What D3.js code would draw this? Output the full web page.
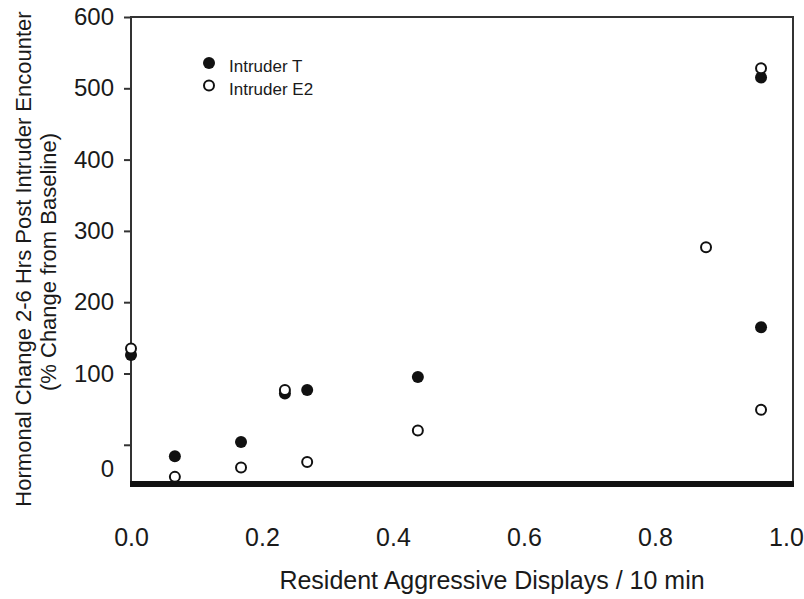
<!DOCTYPE html>
<html>
<head>
<meta charset="utf-8">
<script src="https://cdn.jsdelivr.net/npm/d3@7"></script>
<style>
body{margin:0;background:#fff;}
text{font-family:"Liberation Sans",Arial,sans-serif;fill:#1a1a1a;}
</style>
</head>
<body>
<script>
var w=804, h=599;

// data
var aggT = [0.0, 0.067, 0.168, 0.235, 0.269, 0.438, 0.962, 0.962];
var hormT = [126, -16, 4, 72, 77, 95, 165, 515];
var aggE2 = [0.0, 0.067, 0.168, 0.235, 0.269, 0.438, 0.878, 0.962, 0.962];
var hormE2 = [135, -45, -32, 77, -24, 20, 277, 49, 528];
var seriesNames = ["Intruder T", "Intruder E2"];
var xTicks = [0, 0.2, 0.4, 0.6, 0.8, 1.0];
var yTicks = [0, 100, 200, 300, 400, 500, 600];

var pLeft=131, pRight=793, pTop=17, pBottom=484;

var x = d3.scaleLinear().domain([0, 1.0108]).range([pLeft, pRight]);
var y = d3.scaleLinear().domain([-55, 600]).range([pBottom, pTop]);

var svg = d3.select("body")
	.append("svg")
		.attr("width",w)
		.attr("height",h);

// frame
svg.append("path")
	.attr("d","M"+pLeft+","+pBottom+"V"+pTop+"H"+pRight+"V"+pBottom)
	.attr("fill","none")
	.attr("stroke","#333")
	.attr("stroke-width",2);

// y axis
var yAxis = svg.append("g")
	.attr("transform","translate("+pLeft+",0)")
	.call(d3.axisLeft(y).tickValues(yTicks).tickSize(7).tickPadding(10).tickFormat(d3.format("d")));
yAxis.select(".domain").remove();
yAxis.selectAll("line").attr("stroke","#333").attr("stroke-width",2);
yAxis.selectAll("text").style("font-size","24px").attr("fill","#1a1a1a");
// the zero label sits lower than its tick in the original
yAxis.selectAll(".tick").filter(function(d){return d===0;}).select("text")
	.attr("y", y(-34)-y(0));

// x axis: thick bar at the bottom
svg.append("line")
	.attr("x1",pLeft-1).attr("x2",pRight+1)
	.attr("y1",pBottom).attr("y2",pBottom)
	.attr("stroke","#111").attr("stroke-width",6);
var xAxis = svg.append("g")
	.attr("transform","translate(0,"+pBottom+")")
	.call(d3.axisBottom(x).tickValues(xTicks).tickSize(0).tickPadding(44).tickFormat(d3.format(".1f")));
xAxis.select(".domain").remove();
xAxis.selectAll("text").style("font-size","25px").attr("fill","#1a1a1a");

// axis titles
svg.append("text")
	.attr("x",492).attr("y",589)
	.attr("text-anchor","middle")
	.style("font-size","25px")
	.text("Resident Aggressive Displays / 10 min");

svg.append("text")
	.attr("transform","translate(31,259) rotate(-90)")
	.attr("text-anchor","middle")
	.style("font-size","22px")
	.text("Hormonal Change 2-6 Hrs Post Intruder Encounter");
svg.append("text")
	.attr("transform","translate(56,262) rotate(-90)")
	.attr("text-anchor","middle")
	.style("font-size","22px")
	.text("(% Change from Baseline)");

// points: filled T first, then open E2 on top
svg.selectAll("circle.t")
	.data(aggT)
	.enter()
	.append("circle")
		.attr("class","t")
		.attr("cx",function(d){return x(d);})
		.attr("cy",function(d,i){return y(hormT[i]);})
		.attr("r",6)
		.attr("fill","#111");

svg.selectAll("circle.e2")
	.data(aggE2)
	.enter()
	.append("circle")
		.attr("class","e2")
		.attr("cx",function(d){return x(d);})
		.attr("cy",function(d,i){return y(hormE2[i]);})
		.attr("r",5)
		.attr("fill","#fff")
		.attr("stroke","#111")
		.attr("stroke-width",2);

// legend
var legend = svg.selectAll("g.legend")
	.data(seriesNames)
	.enter()
	.append("g")
		.attr("class","legend")
		.attr("transform",function(d,i){return "translate(209,"+(63+i*22.5)+")";});
legend.append("circle")
	.attr("r",function(d,i){return i===0?6:5;})
	.attr("fill",function(d,i){return i===0?"#111":"#fff";})
	.attr("stroke","#111")
	.attr("stroke-width",function(d,i){return i===0?0:2;});
legend.append("text")
	.attr("x",20).attr("y",9)
	.style("font-size","17px")
	.text(function(d){return d;});
</script>
</body>
</html>
